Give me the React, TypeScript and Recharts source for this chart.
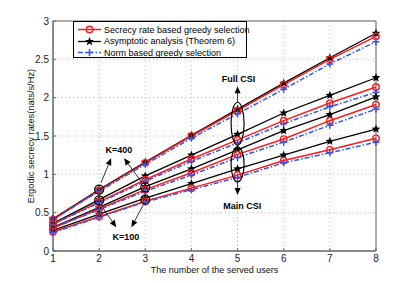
import React from "react";
import {
  LineChart,
  Line,
  XAxis,
  YAxis,
  CartesianGrid,
  ReferenceArea,
  ReferenceDot,
  ReferenceLine,
} from "recharts";

const users = [1, 2, 3, 4, 5, 6, 7, 8];

// Full CSI, K=400
const fullK400Sec = [0.41, 0.79, 1.15, 1.5, 1.83, 2.17, 2.5, 2.8];
const fullK400Asy = [0.42, 0.8, 1.16, 1.51, 1.85, 2.19, 2.52, 2.84];
const fullK400Norm = [0.41, 0.78, 1.13, 1.47, 1.79, 2.11, 2.44, 2.73];
// Full CSI, K=100
const fullK100Sec = [0.35, 0.64, 0.93, 1.2, 1.45, 1.7, 1.93, 2.14];
const fullK100Asy = [0.36, 0.67, 0.98, 1.25, 1.52, 1.8, 2.03, 2.26];
const fullK100Norm = [0.35, 0.63, 0.91, 1.17, 1.41, 1.66, 1.88, 2.07];
// Main CSI, K=400
const mainK400Sec = [0.3, 0.55, 0.8, 1.02, 1.26, 1.46, 1.7, 1.91];
const mainK400Asy = [0.31, 0.57, 0.84, 1.07, 1.32, 1.57, 1.78, 2.01];
const mainK400Norm = [0.3, 0.54, 0.78, 0.99, 1.22, 1.42, 1.64, 1.85];
// Main CSI, K=100
const mainK100Sec = [0.25, 0.45, 0.65, 0.82, 0.99, 1.18, 1.32, 1.47];
const mainK100Asy = [0.27, 0.48, 0.69, 0.88, 1.07, 1.25, 1.43, 1.59];
const mainK100Norm = [0.24, 0.44, 0.64, 0.8, 0.96, 1.15, 1.28, 1.42];

const xTicks = [1, 2, 3, 4, 5, 6, 7, 8];
const yTicks = [0, 0.5, 1, 1.5, 2, 2.5, 3];

const legendNames = [
  "Secrecy rate based greedy selection",
  "Asymptotic analysis (Theorem 6)",
  "Norm based greedy selection",
];

const series = {
  fullK400Sec, fullK400Asy, fullK400Norm,
  fullK100Sec, fullK100Asy, fullK100Norm,
  mainK400Sec, mainK400Asy, mainK400Norm,
  mainK100Sec, mainK100Asy, mainK100Norm,
};

const data = users.map((u, i) => {
  const row: Record<string, number> = { users: u };
  Object.entries(series).forEach(([k, v]) => (row[k] = v[i]));
  return row;
});

const RED = "#ff1a1a";
const BLUE = "#3355ee";
const FONT = "'Liberation Sans', Arial, Helvetica, sans-serif";

const starPoints = (cx: number, cy: number, ro: number, ri: number) => {
  const pts: string[] = [];
  for (let i = 0; i < 10; i++) {
    const r = i % 2 === 0 ? ro : ri;
    const a = -Math.PI / 2 + (i * Math.PI) / 5;
    pts.push(`${cx + r * Math.cos(a)},${cy + r * Math.sin(a)}`);
  }
  return pts.join(" ");
};

const CircleDot = (p: any) => (
  <circle key={p.key ?? `c${p.cx}${p.cy}`} cx={p.cx} cy={p.cy} r={3.2} fill="none" stroke={RED} strokeWidth={1.4} />
);
const StarDot = (p: any) => (
  <polygon key={p.key ?? `s${p.cx}${p.cy}`} points={starPoints(p.cx, p.cy, 4.6, 2)} fill="#000" />
);
const PlusDot = (p: any) => (
  <path
    key={p.key ?? `p${p.cx}${p.cy}`}
    d={`M${p.cx - 3.5},${p.cy}H${p.cx + 3.5}M${p.cx},${p.cy - 3.5}V${p.cy + 3.5}`}
    stroke={BLUE}
    strokeWidth={1.5}
  />
);

const Arrow = (p: any) => {
  const { x1, y1, x2, y2 } = p;
  const ang = Math.atan2(y2 - y1, x2 - x1);
  const L = 7, W = 3;
  const bx = x2 - L * Math.cos(ang), by = y2 - L * Math.sin(ang);
  const nx = -Math.sin(ang) * W, ny = Math.cos(ang) * W;
  return (
    <g>
      <line x1={x1} y1={y1} x2={bx} y2={by} stroke="#000" strokeWidth={0.8} />
      <polygon points={`${x2},${y2} ${bx + nx},${by + ny} ${bx - nx},${by - ny}`} fill="#000" />
    </g>
  );
};

const ellipseShape = (rx: number, ry: number) => (p: any) => (
  <ellipse cx={p.cx} cy={p.cy} rx={rx} ry={ry} fill="none" stroke="#000" strokeWidth={1.2} />
);
const textShape = (t: string) => (p: any) => (
  <text x={p.cx} y={p.cy} textAnchor="middle" dominantBaseline="central" fontFamily={FONT} fontSize={9} fontWeight="bold" fill="#000">
    {t}
  </text>
);

const circleMarks = [
  { x: 2, y: 0.8 },
  { x: 2, y: 0.66 },
  { x: 3, y: 0.83 },
  { x: 3, y: 0.67 },
];

const arrows = [
  { from: [5, 1.94], to: [5, 2.15] },
  { from: [5, 0.9], to: [5, 0.73] },
  { from: [2.04, 0.89], to: [2.26, 1.21] },
  { from: [2.93, 0.89], to: [2.54, 1.21] },
  { from: [2.07, 0.57], to: [2.37, 0.31] },
  { from: [2.98, 0.63], to: [2.7, 0.31] },
];

const groups = ["fullK400", "fullK100", "mainK400", "mainK100"];

const LegendBox = () => (
  <div
    style={{
      position: "absolute",
      left: 73,
      top: 21,
      width: 174,
      height: 37,
      border: "1px solid #000",
      background: "#fff",
      fontFamily: FONT,
      fontSize: 9,
      boxSizing: "border-box",
    }}
  >
    {legendNames.map((name, i) => (
      <div key={name} style={{ position: "absolute", left: 3, top: 2 + i * 11.5, height: 11, display: "flex", alignItems: "center" }}>
        <svg width={25} height={11}>
          <line
            x1={1} y1={5.5} x2={24} y2={5.5}
            stroke={i === 0 ? RED : i === 1 ? "#000" : BLUE}
            strokeWidth={i === 1 ? 1.3 : 1.5}
            strokeDasharray={i === 2 ? "5 2 1.5 2" : undefined}
          />
          {i === 0 && <CircleDot cx={12.5} cy={5.5} />}
          {i === 1 && <StarDot cx={12.5} cy={5.5} />}
          {i === 2 && <PlusDot cx={12.5} cy={5.5} />}
        </svg>
        <span style={{ marginLeft: 2, whiteSpace: "nowrap", color: "#000" }}>{name}</span>
      </div>
    ))}
  </div>
);

export default function App() {
  return (
    <div style={{ position: "absolute", left: 0, top: 0, width: 415, height: 283, background: "#fff" }}>
      <LineChart width={415} height={283} data={data} margin={{ top: 21, right: 39, left: 0, bottom: 0 }}>
        <CartesianGrid stroke="#bbb" strokeDasharray="1 3" />
        <XAxis
          dataKey="users"
          type="number"
          domain={[1, 8]}
          ticks={xTicks}
          height={32}
          tickSize={-3}
          tickMargin={7}
          tickLine={{ stroke: "#666" }}
          axisLine={{ stroke: "#666" }}
          tick={{ fontSize: 10, fill: "#222", fontFamily: FONT }}
          label={{ value: "The number of the served users", position: "insideBottom", offset: 10, fontSize: 9, fill: "#111", fontFamily: FONT }}
        />
        <YAxis
          type="number"
          domain={[0, 3]}
          ticks={yTicks}
          width={53}
          tickSize={-3}
          tickMargin={7}
          tickLine={{ stroke: "#666" }}
          axisLine={{ stroke: "#666" }}
          tick={{ fontSize: 10, fill: "#222", fontFamily: FONT }}
          label={{
            content: (p: any) => {
              const vb = p.viewBox;
              const cx = vb.x + 31;
              const cy = vb.y + vb.height / 2;
              return (
                <text x={cx} y={cy} transform={`rotate(-90 ${cx} ${cy})`} textAnchor="middle" dominantBaseline="central" fontSize={9.3} fill="#111" fontFamily={FONT}>
                  Ergodic secrecy rates(nats/s/Hz)
                </text>
              );
            },
          }}
        />
        <ReferenceArea x1={1} x2={8} y1={0} y2={3} fill="none" stroke="#666" strokeWidth={1} />
        {groups.map((g) => [
          <Line key={g + "Asy"} dataKey={g + "Asy"} stroke="#000" strokeWidth={1.3} dot={StarDot} isAnimationActive={false} />,
          <Line key={g + "Sec"} dataKey={g + "Sec"} stroke={RED} strokeWidth={1.5} dot={CircleDot} isAnimationActive={false} />,
          <Line key={g + "Norm"} dataKey={g + "Norm"} stroke={BLUE} strokeWidth={1.5} strokeDasharray="5 2 1.5 2" dot={PlusDot} isAnimationActive={false} />,
        ])}
        {circleMarks.map((c, i) => (
          <ReferenceDot key={"cm" + i} x={c.x} y={c.y} r={4.5} fill="none" stroke="#000" strokeWidth={1.2} />
        ))}
        <ReferenceDot x={5} y={1.66} r={1} shape={ellipseShape(6.5, 21.5)} />
        <ReferenceDot x={5} y={1.13} r={1} shape={ellipseShape(6.5, 17.5)} />
        {arrows.map((a, i) => (
          <ReferenceLine
            key={"ar" + i}
            segment={[{ x: a.from[0], y: a.from[1] }, { x: a.to[0], y: a.to[1] }]}
            shape={Arrow}
          />
        ))}
        <ReferenceDot x={5.02} y={2.25} r={1} shape={textShape("Full CSI")} />
        <ReferenceDot x={5.1} y={0.59} r={1} shape={textShape("Main CSI")} />
        <ReferenceDot x={2.43} y={1.32} r={1} shape={textShape("K=400")} />
        <ReferenceDot x={2.58} y={0.18} r={1} shape={textShape("K=100")} />
      </LineChart>
      <LegendBox />
    </div>
  );
}
